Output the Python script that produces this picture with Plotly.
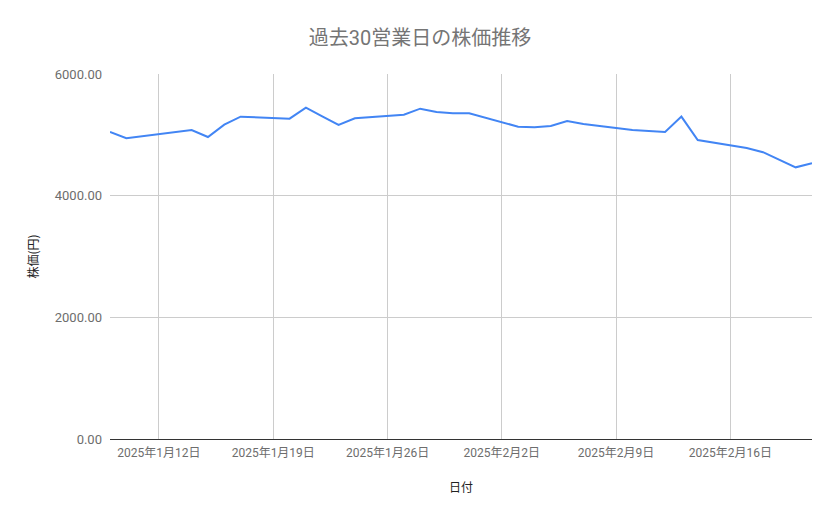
import plotly.graph_objects as go

# 営業日 (祝日: 1/13, 2/11 を除く)
dates = [
    "2025-01-09", "2025-01-10", "2025-01-14", "2025-01-15", "2025-01-16",
    "2025-01-17", "2025-01-20", "2025-01-21", "2025-01-22", "2025-01-23",
    "2025-01-24", "2025-01-27", "2025-01-28", "2025-01-29", "2025-01-30",
    "2025-01-31", "2025-02-03", "2025-02-04", "2025-02-05", "2025-02-06",
    "2025-02-07", "2025-02-10", "2025-02-12", "2025-02-13", "2025-02-14",
    "2025-02-17", "2025-02-18", "2025-02-19", "2025-02-20", "2025-02-21",
]
prices = [
    5046, 4945, 5079, 4964, 5167,
    5299, 5266, 5447, 5305, 5162,
    5272, 5332, 5430, 5376, 5354,
    5354, 5134, 5124, 5145, 5227,
    5178, 5079, 5046, 5299, 4915,
    4785, 4715, 4586, 4466, 4532,
]
tick_dates = ["2025-01-12", "2025-01-19", "2025-01-26", "2025-02-02", "2025-02-09", "2025-02-16"]
tick_labels = ["2025年1月12日", "2025年1月19日", "2025年1月26日", "2025年2月2日", "2025年2月9日", "2025年2月16日"]

fig = go.Figure()
fig.add_trace(go.Scatter(x=dates, y=prices, mode="lines",
                         line=dict(color="#4285F4", width=2), name="株価"))

# ページの余白(8px)を見込んでマージンを調整
fig.update_layout(
    width=839, height=519,
    paper_bgcolor="white", plot_bgcolor="white",
    margin=dict(l=102, r=35, t=66, b=88),
    showlegend=False,
    font=dict(family="Roboto, Noto Sans CJK JP", color="#757575", size=13),
    title=dict(text="過去30営業日の株価推移", x=0.491, xanchor="center", y=0.942, yanchor="middle",
               font=dict(size=20, color="#757575", family="Roboto, Noto Sans CJK JP")),
    xaxis=dict(
        type="date", range=["2025-01-09", "2025-02-21"],
        tickvals=tick_dates, ticktext=tick_labels,
        showgrid=True, gridcolor="#cccccc", gridwidth=1,
        showline=True, linecolor="#333333", linewidth=1,
        ticks="", ticklabelstandoff=3,
        tickfont=dict(size=12, color="#6d6d6d"),
        title=dict(text="日付", standoff=24,
                   font=dict(size=12, color="#222222", family="Noto Sans CJK JP")),
        automargin=False,
    ),
    yaxis=dict(
        range=[0, 6000], dtick=2000, tickformat=".2f",
        showgrid=True, gridcolor="#cccccc", gridwidth=1,
        zeroline=False, showline=False,
        ticks="", ticklabelstandoff=7,
        tickfont=dict(size=13, color="#6d6d6d"),
        title=dict(text="株価(円)", standoff=13,
                   font=dict(size=12, color="#222222", family="Noto Sans CJK JP")),
        automargin=False,
    ),
)

fig.write_html("out.html")
